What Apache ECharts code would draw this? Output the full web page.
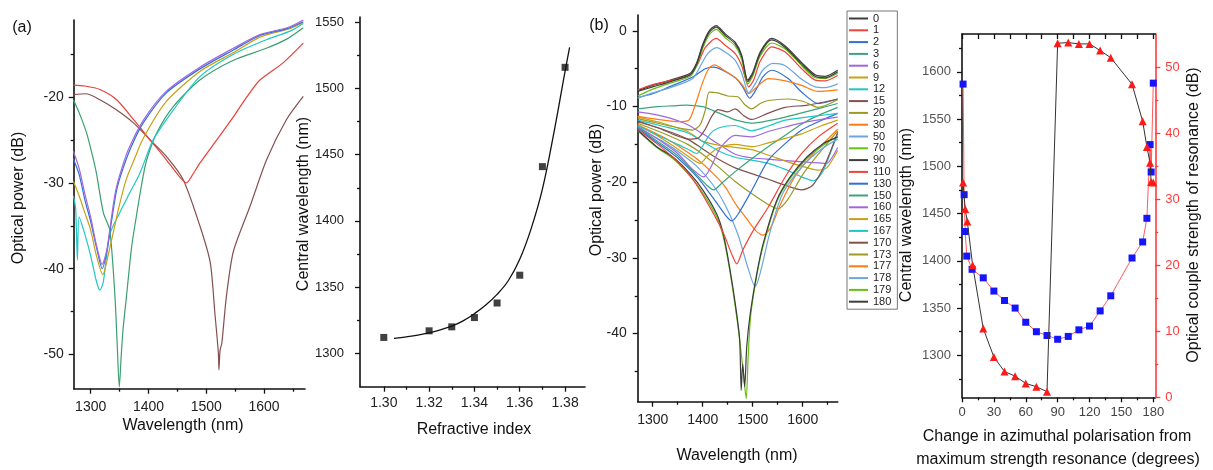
<!DOCTYPE html>
<html><head><meta charset="utf-8">
<script src="https://cdn.jsdelivr.net/npm/echarts@6/dist/echarts.min.js"></script>
<style>html,body{margin:0;padding:0;background:#fff}#c{width:1213px;height:470px}</style>
</head><body><div id="c"></div>
<script>
// ---------- Panel (a) left: transmission spectra ----------
const aPurple = [[1270,-26.3],[1280,-28.3],[1290,-31.3],[1300,-34],[1310,-37.3],[1320,-39.5],[1328,-37.8],[1335,-34.5],[1343,-31],[1353,-28.5],[1366,-26],[1391,-22.7],[1431,-19.3],[1489,-16.5],[1547,-14.3],[1593,-12.7],[1640,-11.9],[1668,-11.0]];
const aBlue = [[1270,-27.2],[1280,-29],[1290,-32],[1300,-34.5],[1310,-37.5],[1320,-40],[1328,-38],[1336,-34.5],[1345,-30.8],[1356,-28.3],[1370,-25.8],[1391,-23],[1431,-19.5],[1489,-16.7],[1547,-14.5],[1593,-12.8],[1640,-12],[1668,-11.2]];
const aGold = [[1270,-29.8],[1280,-31.5],[1290,-33.5],[1300,-35.5],[1310,-38.5],[1321,-40.7],[1330,-38.5],[1340,-35.5],[1350,-32.5],[1362,-29.5],[1374,-27.5],[1391,-24.8],[1431,-20.5],[1489,-17],[1547,-14.8],[1593,-13],[1645,-12],[1668,-11.3]];
const aCyan = [[1270,-31.5],[1274,-33],[1277,-39],[1280,-34],[1290,-36],[1300,-38.5],[1310,-41.5],[1316,-42.5],[1322,-41.5],[1333,-36],[1350,-33.5],[1365,-31.5],[1385,-28.9],[1408,-25],[1443,-21.5],[1489,-17.6],[1547,-15],[1604,-13.3],[1645,-12.3],[1668,-11.4]];
const aGreen = [[1270,-20.3],[1280,-21.8],[1293,-24.2],[1303,-26.8],[1310,-28.9],[1322,-33.5],[1333,-35.5],[1342,-43.2],[1346,-49],[1349.5,-53.8],[1353,-50],[1356,-47.1],[1362,-43.2],[1371,-37.4],[1380,-33.5],[1390,-29.5],[1397,-27.3],[1414,-24.2],[1443,-21.1],[1489,-18],[1547,-15.7],[1604,-14.3],[1640,-13.2],[1668,-11.9]];
const aRed = [[1270,-18.6],[1290,-18.7],[1316,-19.1],[1345,-20.3],[1374,-22.6],[1403,-25],[1431,-27.3],[1454,-29.3],[1466,-30],[1475,-29.2],[1489,-27.7],[1518,-25],[1547,-22.3],[1570,-20],[1593,-18],[1633,-16],[1668,-13.7]];
const aBrown = [[1270,-19.7],[1292,-19.6],[1316,-20.3],[1345,-21.5],[1374,-23],[1403,-25],[1431,-26.9],[1460,-29.6],[1489,-35],[1507,-39.3],[1515,-45.2],[1521,-49.8],[1522,-51.8],[1524,-49.5],[1527,-48.7],[1535,-43.2],[1547,-38],[1576,-32.7],[1604.5,-27.3],[1639,-22.6],[1668,-19.9]];

// ---------- Panel (a) right: central wavelength vs refractive index ----------
const riIndex = [1.30, 1.32, 1.33, 1.34, 1.35, 1.36, 1.37, 1.38];
const riWavelength = [1312, 1317, 1320, 1327, 1338, 1359, 1441, 1516];
const riFitX = [1.3045, 1.31, 1.315, 1.32, 1.325, 1.33, 1.335, 1.34, 1.345, 1.35, 1.355, 1.36, 1.365, 1.37, 1.375, 1.38, 1.382];
const riFitY = [1311.3, 1312.5, 1313.8, 1315.5, 1317.8, 1320.5, 1324.5, 1330, 1336.5, 1344.5, 1355, 1371, 1394, 1424, 1466, 1513, 1531];

// ---------- Panel (b): spectra vs polarisation angle ----------
const bAngles = ['0','1','2','3','6','9','12','15','20','30','50','70','90','110','130','150','160','165','167','170','173','177','178','179','180'];
const b0 = [[1270,-7.9],[1300,-7.2],[1340,-6.4],[1375,-5.6],[1388,-4.2],[1400,-1.8],[1413,0],[1427,0.7],[1445,-0.4],[1465,-1.5],[1478,-3.2],[1490,-6.5],[1500,-5.5],[1515,-2.8],[1538,-1.0],[1565,-2.0],[1598,-4.2],[1625,-5.8],[1645,-6.0],[1670,-5.2]];
const b1 = [[1270,-7.8],[1300,-7.1],[1340,-6.5],[1375,-5.8],[1390,-4.4],[1405,-2.2],[1427,-1.0],[1445,-1.9],[1465,-3.0],[1478,-4.6],[1492,-7.4],[1502,-6.5],[1515,-4.0],[1538,-2.1],[1565,-2.8],[1598,-5.0],[1625,-6.5],[1645,-6.6],[1670,-5.9]];
const b2 = [[1270,-8.8],[1300,-8.3],[1333,-7.4],[1380,-6.1],[1405,-5.0],[1422,-4.8],[1440,-5.2],[1467,-6.3],[1480,-7.4],[1494,-8.9],[1508,-7.6],[1520,-6.1],[1538,-5.2],[1571,-6.3],[1598,-8.1],[1631,-9.6],[1670,-9.0]];
const b3 = [[1270,-10.3],[1310,-10.0],[1340,-9.9],[1367,-9.8],[1400,-10.0],[1420,-10.5],[1445,-11.2],[1467,-11.8],[1498,-12.2],[1530,-11.9],[1565,-11.4],[1600,-10.8],[1635,-10.2],[1670,-9.6]];
const b6 = [[1270,-10.7],[1300,-11.0],[1333,-11.5],[1370,-12.4],[1400,-13.6],[1433,-15.0],[1465,-16.3],[1500,-16.8],[1540,-17.0],[1580,-17.2],[1620,-17.4],[1648,-17.5],[1660,-16.6],[1670,-15.4]];
const b9 = [[1270,-11.4],[1320,-12.2],[1370,-13.3],[1400,-14.6],[1440,-15.2],[1465,-15.4],[1498,-15.7],[1531,-16.4],[1570,-17.3],[1600,-17.9],[1630,-18.4],[1648,-18.1],[1670,-15.8]];
const b12 = [[1270,-11.8],[1320,-12.6],[1367,-13.4],[1400,-14.6],[1433,-15.9],[1465,-16.7],[1500,-17.1],[1531,-17.5],[1565,-18.3],[1598,-19.3],[1622,-19.8],[1640,-18.6],[1655,-16.2],[1670,-13.6]];
const b15 = [[1270,-12.0],[1320,-13.0],[1370,-14.3],[1400,-15.6],[1430,-16.9],[1465,-18.1],[1500,-18.9],[1531,-19.6],[1565,-20.4],[1598,-21.0],[1620,-20.4],[1645,-17.6],[1670,-13.4]];
const b20 = [[1270,-12.2],[1320,-13.5],[1370,-15.0],[1400,-16.3],[1430,-17.9],[1465,-19.9],[1500,-21.6],[1530,-22.9],[1551,-23.5],[1570,-22.3],[1600,-19.0],[1630,-16.4],[1670,-13.2]];
const b30 = [[1270,-12.4],[1320,-14.0],[1360,-15.6],[1390,-17.0],[1420,-18.8],[1445,-20.6],[1467,-23.0],[1490,-25.0],[1506,-26.4],[1521,-27.0],[1536,-26.0],[1555,-23.0],[1585,-19.2],[1625,-16.0],[1670,-13.0]];
const b50 = [[1270,-12.8],[1320,-14.6],[1360,-16.4],[1390,-18.0],[1420,-20.3],[1445,-23.0],[1470,-26.8],[1490,-31.2],[1505,-33.8],[1515,-32.0],[1535,-26.5],[1560,-21.5],[1600,-17.8],[1640,-15.5],[1670,-14.3]];
const b70 = [[1270,-13.2],[1308,-15.4],[1341,-16.9],[1375,-19.2],[1400,-21.4],[1428,-24.6],[1441,-27.2],[1455,-32],[1468,-37.8],[1476,-42],[1481,-45],[1487,-48.6],[1491,-43],[1496,-37.6],[1508,-32.4],[1521,-28.4],[1548,-22.6],[1575,-19.5],[1608,-16.9],[1641,-15.1],[1670,-14.0]];
const b90 = [[1270,-13.1],[1308,-15.3],[1341,-16.7],[1375,-18.9],[1401,-21.1],[1428,-24.2],[1441,-26.8],[1455,-31.7],[1468,-37.4],[1474,-40.9],[1477,-47.5],[1480,-44],[1484,-47],[1488,-41.8],[1495,-37.4],[1508,-32.1],[1521,-28.1],[1548,-22.4],[1575,-19.3],[1608,-16.7],[1641,-14.9],[1670,-14.0]];
const b110 = [[1270,-13.0],[1310,-15.0],[1345,-17.0],[1380,-19.6],[1410,-22.8],[1440,-26.5],[1458,-29.5],[1468,-30.8],[1480,-29.0],[1501,-26.4],[1531,-23.3],[1565,-19.3],[1598,-16.2],[1631,-14.0],[1670,-12.2]];
const b130 = [[1270,-12.8],[1310,-14.8],[1350,-16.8],[1390,-19.4],[1420,-22.0],[1445,-24.3],[1458,-25.1],[1470,-24.3],[1498,-21.1],[1531,-17.1],[1565,-14.9],[1598,-13.1],[1635,-11.9],[1670,-10.9]];
const b150 = [[1270,-12.7],[1310,-14.6],[1350,-16.5],[1385,-18.8],[1410,-20.5],[1422,-21.0],[1440,-20.0],[1465,-18.6],[1500,-16.8],[1531,-15.3],[1565,-13.8],[1598,-12.3],[1630,-11.2],[1670,-10.1]];
const b160 = [[1270,-12.6],[1310,-14.3],[1350,-16.2],[1380,-18.3],[1402,-19.3],[1418,-17.8],[1435,-15.5],[1465,-13.8],[1498,-14.0],[1531,-13.3],[1565,-12.7],[1610,-12.0],[1670,-11.4]];
const b165 = [[1270,-12.4],[1310,-13.9],[1350,-15.6],[1380,-17.0],[1395,-17.5],[1410,-16.5],[1430,-15.5],[1465,-15.0],[1500,-15.3],[1531,-14.8],[1565,-14.2],[1598,-13.6],[1635,-12.6],[1670,-11.8]];
const b167 = [[1270,-12.5],[1310,-13.8],[1350,-15.0],[1375,-15.8],[1388,-16.2],[1400,-15.2],[1415,-13.6],[1433,-12.8],[1465,-12.5],[1498,-13.2],[1530,-12.6],[1565,-11.8],[1620,-11.3],[1670,-10.9]];
const b170 = [[1270,-11.9],[1310,-12.8],[1346,-13.8],[1370,-14.3],[1390,-14.2],[1405,-13.0],[1418,-11.3],[1430,-10.4],[1450,-10.7],[1465,-10.3],[1482,-11.2],[1498,-11.7],[1530,-10.9],[1565,-10.1],[1610,-9.8],[1670,-9.0]];
const b173 = [[1270,-11.6],[1310,-12.2],[1350,-12.8],[1380,-13.1],[1395,-12.4],[1405,-10.5],[1413,-8.1],[1430,-8.2],[1450,-8.6],[1470,-8.7],[1485,-9.8],[1498,-10.3],[1515,-9.6],[1531,-9.2],[1570,-9.0],[1600,-9.3],[1631,-10.1],[1670,-9.1]];
const b177 = [[1270,-11.3],[1310,-11.7],[1350,-12.0],[1372,-11.8],[1385,-9.8],[1400,-6.8],[1412,-5.0],[1423,-4.5],[1445,-5.3],[1465,-6.2],[1480,-7.2],[1492,-8.3],[1505,-7.6],[1531,-6.3],[1565,-6.6],[1598,-7.2],[1630,-8.0],[1670,-7.8]];
const b178 = [[1270,-8.9],[1300,-8.2],[1340,-7.4],[1380,-6.3],[1395,-4.7],[1410,-3.0],[1428,-2.2],[1445,-2.8],[1465,-3.9],[1478,-5.6],[1492,-8.2],[1505,-7.0],[1520,-5.2],[1540,-4.3],[1565,-4.6],[1598,-6.4],[1625,-7.4],[1645,-7.5],[1670,-7.0]];
const b179 = [[1270,-8.6],[1300,-7.7],[1340,-6.8],[1375,-6.0],[1388,-4.6],[1400,-2.3],[1413,-0.5],[1427,0.2],[1445,-0.9],[1465,-2.0],[1478,-3.8],[1490,-7.0],[1500,-6.0],[1515,-3.3],[1538,-1.6],[1565,-2.4],[1598,-4.6],[1625,-6.2],[1645,-6.3],[1670,-5.6]];
const b180 = [[1270,-8.0],[1300,-7.4],[1340,-6.6],[1375,-5.8],[1388,-4.4],[1400,-2.0],[1413,-0.2],[1427,0.5],[1445,-0.6],[1465,-1.7],[1478,-3.4],[1490,-6.7],[1500,-5.7],[1515,-3.0],[1538,-1.2],[1565,-2.2],[1598,-4.4],[1625,-6.0],[1645,-6.2],[1670,-5.4]];
const bCurves = [b0,b1,b2,b3,b6,b9,b12,b15,b20,b30,b50,b70,b90,b110,b130,b150,b160,b165,b167,b170,b173,b177,b178,b179,b180];

// ---------- Right panel: central wavelength & strength vs angle ----------
const polSqAngle = [1, 2, 3, 4.5, 9.5, 20, 30, 40, 50, 60, 70, 80, 90, 100, 110, 120, 130, 140, 160, 170, 174, 177, 178, 180];
const polSqWavelength = [1587, 1470, 1431, 1405, 1391, 1382, 1368, 1358, 1350, 1335, 1325, 1321, 1317, 1320, 1327, 1331, 1347, 1363, 1403, 1420, 1445, 1523, 1494, 1588];
const polTriAngle = [1, 3, 5, 10, 20, 30, 40, 50, 60, 70, 80, 90, 100, 110, 120, 130, 140, 160, 170, 174, 177, 178, 180];
const polTriStrength = [32.5, 28.5, 26.6, 20, 10.4, 6.1, 3.9, 3.2, 2.1, 1.6, 0.85, 53.6, 53.7, 53.5, 53.5, 52.5, 51.4, 47.4, 41.8, 37.9, 35.5, 32.6, 32.5];

// ---------- tick values ----------
const aXMajor = [1300,1400,1500,1600], aXMinor = [1350,1450,1550,1650];
const aYMajor = [-50,-40,-30,-20], aYMinor = [-45,-35,-25,-15];
const riXMajor = [1.30,1.32,1.34,1.36,1.38], riXMinor = [1.31,1.33,1.35,1.37];
const riYMajor = [1300,1350,1400,1450,1500,1550], riYMinor = [1325,1375,1425,1475,1525];
const bXMajor = [1300,1400,1500,1600], bXMinor = [1350,1450,1550,1650];
const bYMajor = [0,-10,-20,-30,-40], bYMinor = [-5,-15,-25,-35,-45];
const pXMajor = [0,30,60,90,120,150,180], pXMinor = [15,45,75,105,135,165];
const pYLMajor = [1300,1350,1400,1450,1500,1550,1600], pYLMinor = [1275,1325,1375,1425,1475,1525,1575,1625];
const pYRMajor = [0,10,20,30,40,50], pYRMinor = [5,15,25,35,45];

const FF = '"Liberation Sans", Arial, sans-serif';
const palette = ['#3d3d3d','#f0433a','#2f6fd8','#3aa57a','#a066e0','#c9a012','#1fc6c6','#83504f','#9a9a24','#ff7a12','#6aa6e0','#66c010'];

function ax(o) {
  const lc = o.lc || '#111';
  return {
    type: 'value', gridIndex: o.g, min: o.min, max: o.max, position: o.pos,
    axisLine: { show: o.line !== false, onZero: false, lineStyle: { color: lc, width: o.lw || 1.6 } },
    axisTick: { show: true, inside: !!o.inside, length: o.tl || 5, customValues: o.ticks, lineStyle: { color: lc, width: 1.3 } },
    axisLabel: o.labels ? { show: true, customValues: o.labels, margin: o.margin || 10, fontSize: o.fs || 14, color: o.tc || '#222', fontFamily: FF, formatter: o.fmt || (v => String(v)) } : { show: false },
    splitLine: { show: false }
  };
}

const xAxis = [
  ax({g:0, min:1270.6, max:1671, pos:'bottom', ticks:aXMajor, labels:aXMajor, margin:11}),
  ax({g:0, min:1270.6, max:1671, pos:'bottom', ticks:aXMinor, line:false, tl:3}),
  ax({g:1, min:1.2895, max:1.3888, pos:'bottom', ticks:riXMajor, labels:riXMajor, margin:9, fmt:v=>v.toFixed(2)}),
  ax({g:1, min:1.2895, max:1.3888, pos:'bottom', ticks:riXMinor, line:false, tl:3}),
  ax({g:2, min:1270, max:1670, pos:'bottom', ticks:bXMajor, labels:bXMajor, margin:11}),
  ax({g:2, min:1270, max:1670, pos:'bottom', ticks:bXMinor, line:false, tl:3}),
  ax({g:3, min:0, max:181.9, pos:'bottom', ticks:pXMajor, labels:pXMajor, margin:9, fs:13, tc:'#444'}),
  ax({g:3, min:0, max:181.9, pos:'bottom', ticks:pXMinor, line:false, tl:3}),
  ax({g:3, min:0, max:181.9, pos:'top', ticks:pXMajor.concat(pXMinor), inside:true, tl:5})
];
const yAxis = [
  ax({g:0, min:-54, max:-11, pos:'left', ticks:aYMajor, labels:aYMajor, margin:10}),
  ax({g:0, min:-54, max:-11, pos:'left', ticks:aYMinor, line:false, tl:3}),
  ax({g:1, min:1274.8, max:1554, pos:'left', ticks:riYMajor, labels:riYMajor, margin:16, fs:13}),
  ax({g:1, min:1274.8, max:1554, pos:'left', ticks:riYMinor, line:false, tl:3}),
  ax({g:2, min:-49, max:2.1, pos:'left', ticks:bYMajor, labels:bYMajor, margin:11}),
  ax({g:2, min:-49, max:2.1, pos:'left', ticks:bYMinor, line:false, tl:3}),
  ax({g:3, min:1255.6, max:1640, pos:'left', ticks:pYLMajor, labels:pYLMajor, margin:11, fs:13, tc:'#555'}),
  ax({g:3, min:1255.6, max:1640, pos:'left', ticks:pYLMinor, line:false, tl:3}),
  ax({g:3, min:0, max:55, pos:'right', ticks:pYRMajor, labels:pYRMajor, margin:10, fs:13, tc:'#ff3b3b', lc:'#ff3b3b'}),
  ax({g:3, min:0, max:55, pos:'right', ticks:pYRMinor, line:false, tl:3, lc:'#ff3b3b'})
];

function line(name, data, color, xi, yi, w) {
  return { name, type:'line', data, xAxisIndex:xi, yAxisIndex:yi, showSymbol:false, symbol:'none', smooth:0.25,
    color, lineStyle:{ color, width: w || 1.2 }, clip:true, silent:true };
}

const series = [
  line('a-brown', aBrown, '#83504f', 0, 0),
  line('a-red', aRed, '#e8403a', 0, 0),
  line('a-green', aGreen, '#3a9e70', 0, 0),
  line('a-cyan', aCyan, '#1fc6c6', 0, 0),
  line('a-gold', aGold, '#c9a012', 0, 0),
  line('a-blue', aBlue, '#2f6fd8', 0, 0),
  line('a-purple', aPurple, '#a066e0', 0, 0),
  Object.assign(line('ri-fit', riFitX.map((x,i)=>[x, riFitY[i]]), '#111', 2, 2, 1.3), {smooth:0.4}),
  { name:'ri-data', type:'scatter', xAxisIndex:2, yAxisIndex:2, data: riIndex.map((x,i)=>[x, riWavelength[i]]),
    symbol:'rect', symbolSize:7, itemStyle:{color:'#111'}, silent:true }
];
bAngles.forEach((name, i) => series.push(line(name, bCurves[i], palette[i % 12], 4, 4, 1.2)));
series.push({ name:'pol-wavelength', type:'line', xAxisIndex:6, yAxisIndex:6,
  data: polSqAngle.map((x,i)=>[x, polSqWavelength[i]]), symbol:'rect', symbolSize:7,
  itemStyle:{color:'#1414ff'}, lineStyle:{color:'#ff5a5a', width:1}, silent:true, z:3 });
series.push({ name:'pol-strength', type:'line', xAxisIndex:6, yAxisIndex:8,
  data: polTriAngle.map((x,i)=>[x, polTriStrength[i]]), symbol:'triangle', symbolSize:8,
  itemStyle:{color:'#ff1a1a'}, lineStyle:{color:'#333', width:1}, silent:true, z:4 });

function txt(x, y, text, size, rot, color) {
  return { type:'text', x, y, rotation: rot || 0, silent:true,
    style:{ text, font: (size||16) + 'px ' + FF, fill: color || '#111', align:'center', verticalAlign:'middle' } };
}

const option = {
  animation:false,
  backgroundColor:'#fff',
  grid:[
    {left:73.7, top:20, width:231.3, height:368.7, outerBoundsMode:'none'},
    {left:360, top:17, width:225, height:369.7, outerBoundsMode:'none'},
    {left:637.7, top:15, width:200, height:386.7, outerBoundsMode:'none'},
    {left:962, top:34, width:193.3, height:363.3, outerBoundsMode:'none'}
  ],
  xAxis, yAxis, series,
  legend:{ data:bAngles, orient:'vertical', left:847, top:11, itemWidth:19, itemHeight:2, icon:'rect',
    itemGap:0.8, padding:[2,6,2,2], borderColor:'#777', borderWidth:1, selectedMode:false,
    textStyle:{fontSize:11, lineHeight:11, color:'#222', fontFamily:FF} },
  graphic:[
    txt(22, 28, '(a)', 16),
    txt(19, 198, 'Optical power (dB)', 16, Math.PI/2),
    txt(183, 426, 'Wavelength (nm)', 16),
    txt(304, 204, 'Central wavelength (nm)', 16, Math.PI/2),
    txt(474, 430, 'Refractive index', 16),
    txt(599, 26, '(b)', 16),
    txt(597, 190, 'Optical power (dB)', 16, Math.PI/2),
    txt(737, 456, 'Wavelength (nm)', 16),
    txt(907, 215, 'Central wavelength (nm)', 16, Math.PI/2),
    txt(1194, 215, 'Optical couple strength of resonance (dB)', 16, Math.PI/2),
    txt(1057, 437, 'Change in azimuthal polarisation from', 16),
    txt(1058, 460, 'maximum strength resonance (degrees)', 16)
  ]
};
const chart = echarts.init(document.getElementById('c'), null, {renderer:'canvas'});
chart.setOption(option);
</script></body></html>
